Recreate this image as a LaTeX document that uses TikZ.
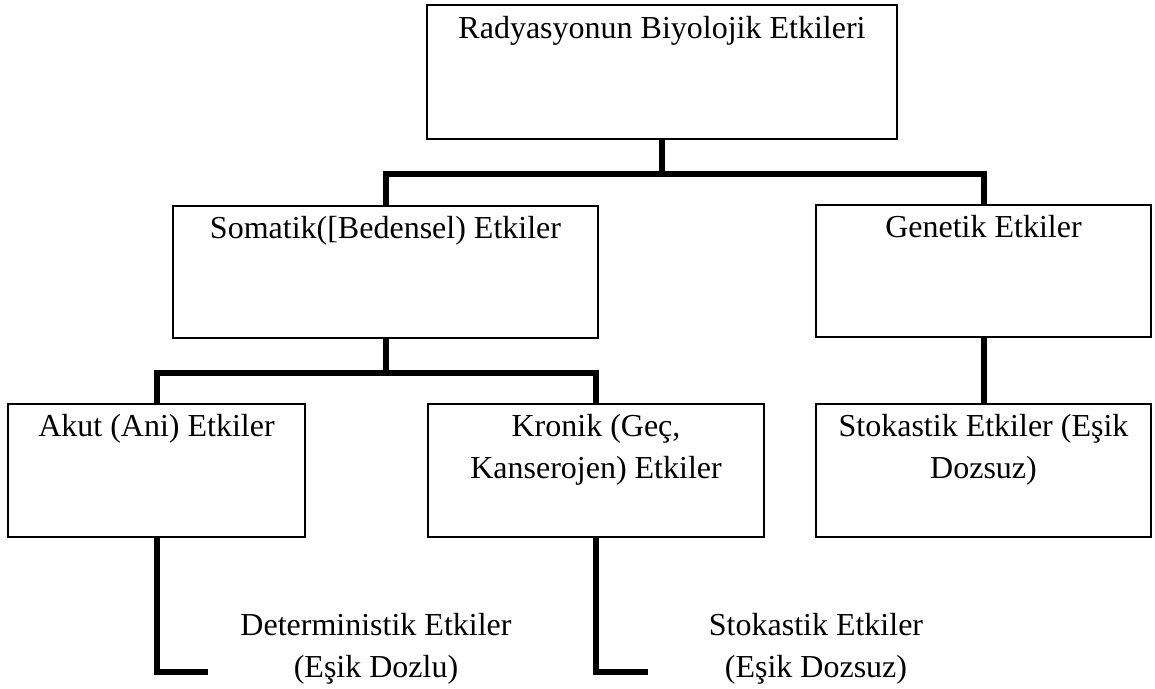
\documentclass[tikz,border=0pt]{standalone}
\usepackage{fontspec}
\setmainfont{Liberation Serif}
\usetikzlibrary{calc}
\tikzset{
  box/.style={draw=black, line width=1.2pt, rectangle, inner sep=0pt, fill=white},
  conn/.style={draw=black, line width=6pt, line join=miter},
  lbl/.style={anchor=base, inner sep=0pt, align=center, font=\fontsize{32}{42}\selectfont},
}
\begin{document}
\begin{tikzpicture}[x=1pt, y=-1pt]
\useasboundingbox (0,0) rectangle (1155,688);
% boxes
\node[box, minimum width=470pt, minimum height=134pt] (top) at (662,72) {};
\node[box, minimum width=425pt, minimum height=132pt] (som) at (385.5,272) {};
\node[box, minimum width=335pt, minimum height=132pt] (gen) at (983.5,271) {};
\node[box, minimum width=297pt, minimum height=133pt] (akut) at (156.5,470.5) {};
\node[box, minimum width=336pt, minimum height=133pt] (kron) at (596,470.5) {};
\node[box, minimum width=335pt, minimum height=133pt] (stok) at (983.5,470.5) {};
% box texts (base anchor of two-line texts is the last line)
\node[lbl] (ttop) at ($(top.north)+(0,34)$) {Radyasyonun Biyolojik Etkileri};
\node[lbl] (tsom) at ($(som.north)+(0,33)$) {Somatik([Bedensel) Etkiler};
\node[lbl] (tgen) at ($(gen.north)+(0,33)$) {Genetik Etkiler};
\node[lbl] (takut) at ($(akut.north)+(0,33)$) {Akut (Ani) Etkiler};
\node[lbl] (tkron) at ($(kron.north)+(0,75)$) {Kronik (Geç,\\Kanserojen) Etkiler};
\node[lbl] (tstok) at ($(stok.north)+(0,75)$) {Stokastik Etkiler (Eşik\\Dozsuz)};
% free texts
\node[lbl] (det) at (376,677) {Deterministik Etkiler\\(Eşik Dozlu)};
\node[lbl] (sto2) at (816,677) {Stokastik Etkiler\\(Eşik Dozsuz)};
% end coordinates
\coordinate (akend) at (208,672);
\coordinate (krend) at (648,672);
% connectors
\draw[conn] (top.south) -- ($(top.south |- som.north)+(0,-31)$);
\draw[conn] (som.north) -- ++(0,-31) -| (gen.north);
\draw[conn] (som.south) -- ++(0,36) coordinate (sj);
\draw[conn] (akut.north) -- ++(0,-30) -| (kron.north);
\draw[conn] (gen.south) -- (stok.north);
\draw[conn] (akut.south) |- (akend);
\draw[conn] (kron.south) |- (krend);
\end{tikzpicture}
\end{document}
